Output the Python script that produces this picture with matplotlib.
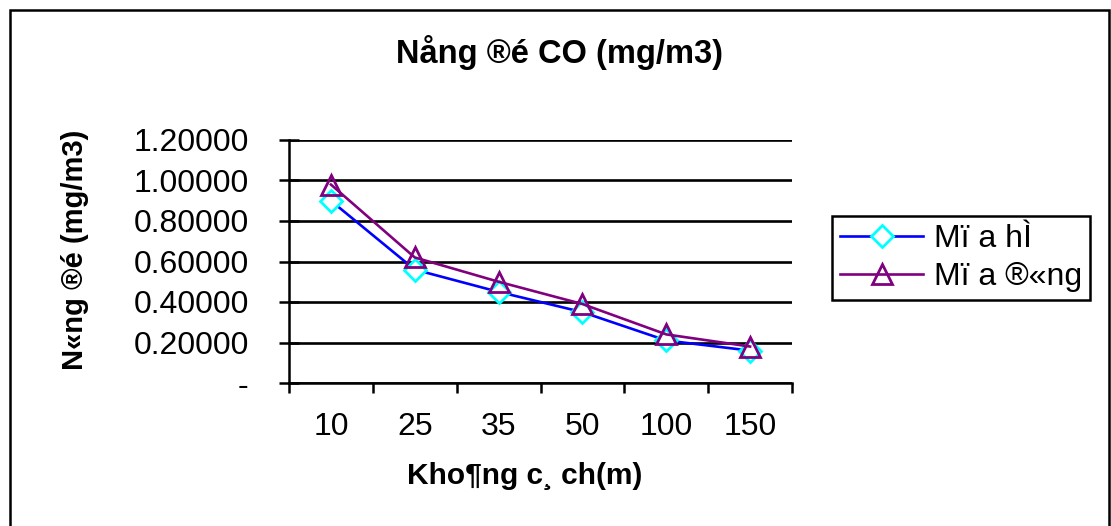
import matplotlib
matplotlib.use("Agg")
import matplotlib.pyplot as plt
from matplotlib.patches import Rectangle
from matplotlib.ticker import FixedLocator, NullFormatter

plt.rcParams['font.family'] = ['Liberation Sans', 'DejaVu Sans']

# ---- data ----
categories = ["10", "25", "35", "50", "100", "150"]
summer = [0.90, 0.56, 0.45, 0.35, 0.21, 0.16]
winter = [0.98, 0.62, 0.50, 0.39, 0.24, 0.18]
yticks = [0.0, 0.2, 0.4, 0.6, 0.8, 1.0, 1.2]
ytick_labels = ["-", "0.20000", "0.40000", "0.60000", "0.80000", "1.00000", "1.20000"]
title = "Nång ®é CO (mg/m3)"
xlabel = "Kho¶ng c¸ ch(m)"
ylabel = "N«ng ®é (mg/m3)"
series_names = ["Mï a hÌ", "Mï a ®«ng"]

W, H = 1111, 526
fig = plt.figure(figsize=(W / 100, H / 100), dpi=100)

# outer border
fig.patches.append(Rectangle((10 / W, -0.05), 1099 / W, 1 - 10 / H + 0.05,
                             transform=fig.transFigure, fill=False,
                             edgecolor='black', linewidth=1.8, zorder=0))

L, R, T, B = 289, 792, 140, 383
ax = fig.add_axes([L / W, 1 - B / H, (R - L) / W, (B - T) / H])

x = list(range(len(categories)))
ax.plot(x, summer, color='#0000FF', linewidth=1.9, marker='D', markersize=11,
        markerfacecolor='white', markeredgecolor='#00FFFF', markeredgewidth=2.0,
        label=series_names[0], zorder=3)
ax.plot(x, winter, color='#800080', linewidth=1.9, marker='^', markersize=14,
        markerfacecolor='none', markeredgecolor='#800080', markeredgewidth=2.0,
        label=series_names[1], zorder=4)

ax.set_xlim(-0.5, len(categories) - 0.5)
ax.set_ylim(0, 1.2)

# y axis
ax.set_yticks(yticks)
ax.set_yticklabels(ytick_labels)
ax.tick_params(axis='y', direction='inout', length=14, width=1.8, pad=22,
               labelsize=23)
ax.yaxis.grid(True, color='black', linewidth=1.9)
ax.set_axisbelow(True)

# x axis: labels at category centers, tick marks at boundaries
ax.set_xticks(x)
ax.set_xticklabels(categories)
ax.tick_params(axis='x', which='major', length=0, pad=21, labelsize=23)
ax.xaxis.set_minor_locator(FixedLocator([i - 0.5 for i in range(len(categories) + 1)]))
ax.xaxis.set_minor_formatter(NullFormatter())
ax.tick_params(axis='x', which='minor', direction='out', length=7, width=1.8)

for s in ['top', 'right']:
    ax.spines[s].set_visible(False)
for s in ['left', 'bottom']:
    ax.spines[s].set_linewidth(1.8)
    ax.spines[s].set_zorder(5)

ax.set_xlabel(xlabel, fontsize=21.5, fontweight='bold')
ax.xaxis.set_label_coords((525 - L) / (R - L), (B - 462) / (B - T))
ax.set_ylabel(ylabel, fontsize=21, fontweight='bold')
ax.yaxis.set_label_coords((89 - L) / (R - L), (B - 250) / (B - T))

fig.text(560 / W, 1 - 52 / H, title, ha='center', va='center',
         fontsize=23.5, fontweight='bold')

leg = ax.legend(loc='upper left', bbox_to_anchor=(832 / W, 1 - 216 / H),
                bbox_transform=fig.transFigure, borderaxespad=0,
                fontsize=23, numpoints=1, handlelength=2.6, handletextpad=0.35,
                labelspacing=0.25, borderpad=0.25, fancybox=False,
                frameon=True, edgecolor='black', framealpha=1)
leg.get_frame().set_linewidth(1.8)

fig.savefig("out.png", dpi=100)
